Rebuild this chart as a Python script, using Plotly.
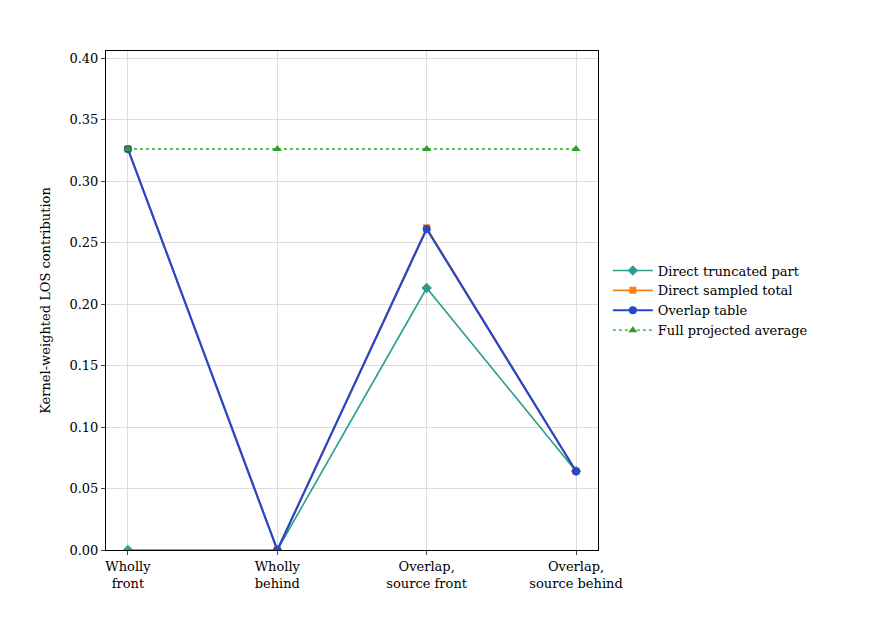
import plotly.graph_objects as go

categories = ["Wholly<br>front", "Wholly<br>behind", "Overlap,<br>source front", "Overlap,<br>source behind"]
truncated = [0.0, 0.0, 0.213, 0.064]
sampled = [0.326, 0.0, 0.262, 0.064]
overlap = [0.326, 0.0, 0.261, 0.064]
full_avg = [0.326, 0.326, 0.326, 0.326]
xi = list(range(len(categories)))

fig = go.Figure()
fig.add_trace(go.Scatter(x=xi, y=truncated, name="Direct truncated part", mode="lines+markers",
                         line=dict(color="#2a9d8f", width=1.6), marker=dict(symbol="diamond", size=8)))
fig.add_trace(go.Scatter(x=xi, y=sampled, name="Direct sampled total", mode="lines+markers",
                         line=dict(color="#ff7f0e", width=1.6), marker=dict(symbol="square", size=7)))
fig.add_trace(go.Scatter(x=xi, y=overlap, name="Overlap table", mode="lines+markers",
                         line=dict(color="#2647c8", width=2.2), marker=dict(symbol="circle", size=8)))
fig.add_trace(go.Scatter(x=xi, y=full_avg, name="Full projected average", mode="lines+markers",
                         line=dict(color="#2ca02c", width=1.4, dash="dot"), marker=dict(symbol="triangle-up", size=8)))

fig.update_layout(
    width=880, height=640, paper_bgcolor="white", plot_bgcolor="white",
    margin=dict(l=98, r=290, t=43, b=98),
    font=dict(family="DejaVu Serif", size=13, color="black"),
    legend=dict(x=1.02, y=0.5, yanchor="middle", xanchor="left", font=dict(size=13),
                tracegroupgap=2, itemwidth=40),
    xaxis=dict(range=[-0.147, 3.147], tickvals=xi, ticktext=categories, showgrid=True,
               gridcolor="#dcdcdc", showline=True, linecolor="black", mirror=True,
               ticks="outside", ticklen=4, zeroline=False),
    yaxis=dict(title=dict(text="Kernel-weighted LOS contribution", font=dict(size=13)),
               range=[0, 0.4057], dtick=0.05, tickformat=".2f", showgrid=True, gridcolor="#dcdcdc",
               showline=True, linecolor="black", mirror=True, ticks="outside", ticklen=4, zeroline=False),
)
fig.write_html("out.html")
